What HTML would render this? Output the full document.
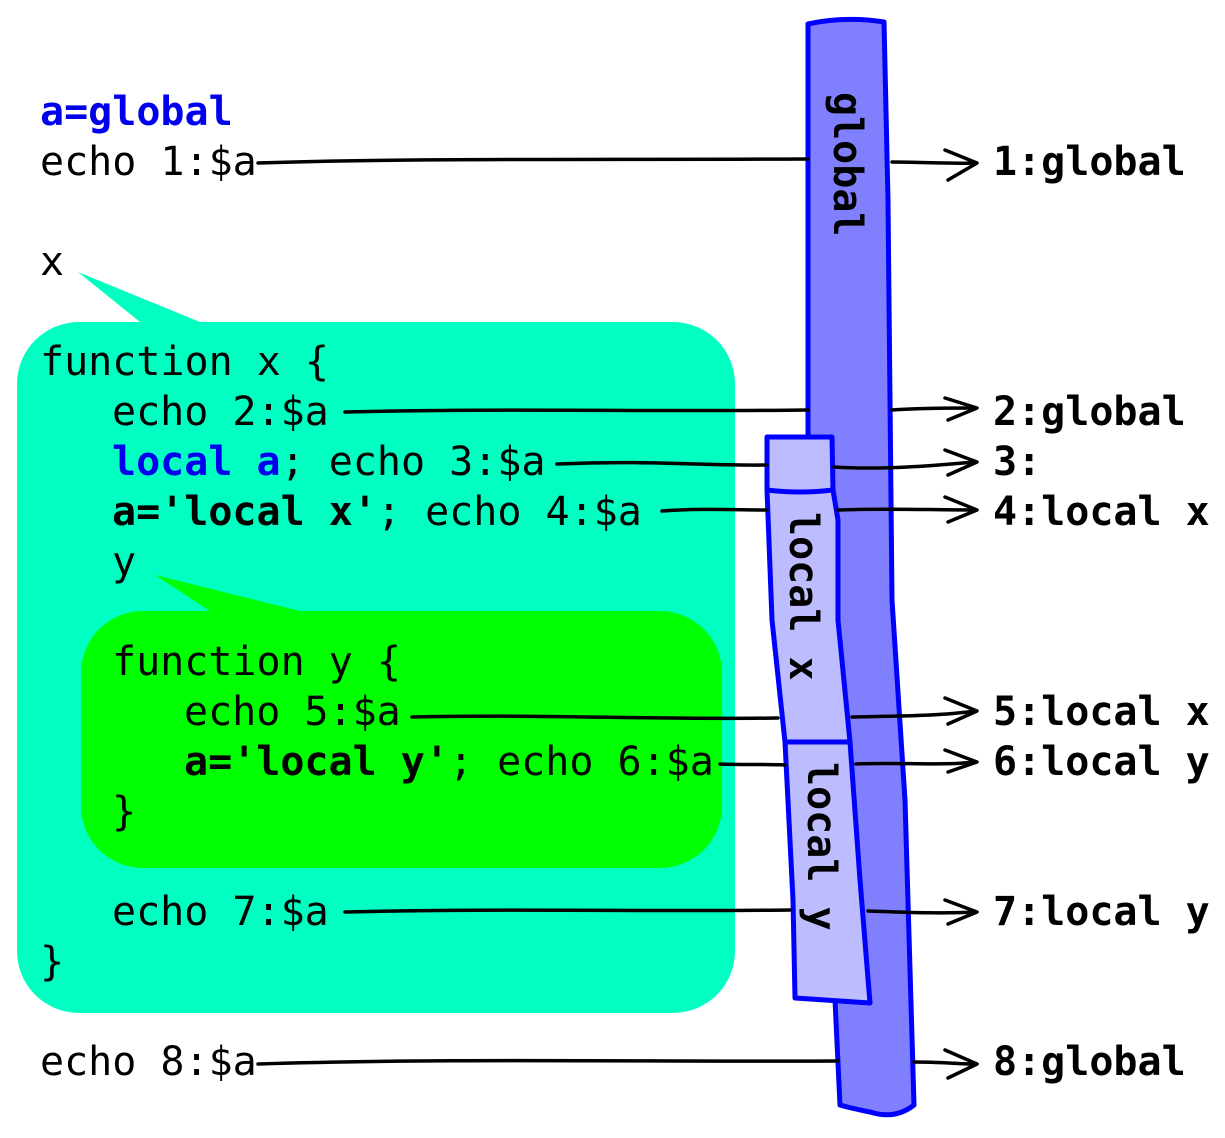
<!DOCTYPE html>
<html><head><meta charset="utf-8"><style>
html,body{margin:0;padding:0;background:#fff;}
svg{display:block}
text{font-family:"DejaVu Sans Mono","Liberation Mono",monospace;font-size:40px;}
.b{font-weight:bold}
</style></head><body>
<svg width="1225" height="1138" viewBox="0 0 1225 1138">
<!-- callouts -->
<path d="M78,272 L200,322 L140,322 Z" fill="#00ffc0"/>
<rect x="17" y="322" width="718" height="691" rx="62" fill="#00ffc0"/>
<path d="M155,575 L300,611 L210,611 Z" fill="#00ff00"/>
<rect x="81" y="611" width="641" height="257" rx="62" fill="#00ff00"/>

<!-- global bar -->
<path d="M808,24 Q845,16 884,22 L888,200 L892,600 L905,800 L914,1105 Q895,1120 870,1112 Q850,1108 840,1105 L835,1000 L808,600 L808,200 Z" fill="#8080ff" stroke="#0000ff" stroke-width="5" stroke-linejoin="round"/>
<!-- local x -->
<path d="M767,437 L832,437 L833,490 L838,520 L838,620 L850,742 L785,742 L772,620 L767,490 Z" fill="#bcbcff" stroke="#0000ff" stroke-width="5" stroke-linejoin="round"/>
<path d="M767,490 Q800,494 833,490" fill="none" stroke="#0000ff" stroke-width="5"/>
<!-- local y -->
<path d="M785,742 L850,742 L860,880 L870,1003 L795,998 L793,900 Z" fill="#bcbcff" stroke="#0000ff" stroke-width="5" stroke-linejoin="round"/>

<text class="b" transform="translate(834,92) rotate(90)">global</text>
<text class="b" transform="translate(790,512) rotate(90)">local x</text>
<text class="b" transform="translate(808,762) rotate(90)">local y</text>

<!-- code -->
<g>
<text x="40" y="125" class="b" fill="#0000ee">a=global</text>
<text x="40" y="175">echo 1:$a</text>
<text x="40" y="275">x</text>
<text x="40" y="375">function x {</text>
<text x="112" y="425">echo 2:$a</text>
<text x="112" y="475"><tspan class="b" fill="#0000ee">local a</tspan>; echo 3:$a</text>
<text x="112" y="525"><tspan class="b">a='local x'</tspan>; echo 4:$a</text>
<text x="112" y="575">y</text>
<text x="112" y="675">function y {</text>
<text x="184" y="725">echo 5:$a</text>
<text x="184" y="775"><tspan class="b">a='local y'</tspan>; echo 6:$a</text>
<text x="112" y="825">}</text>
<text x="112" y="925">echo 7:$a</text>
<text x="40" y="975">}</text>
<text x="40" y="1075">echo 8:$a</text>
</g>

<!-- outputs -->
<g class="b">
<text x="993" y="175" class="b">1:global</text>
<text x="993" y="425" class="b">2:global</text>
<text x="993" y="475" class="b">3:</text>
<text x="993" y="525" class="b">4:local x</text>
<text x="993" y="725" class="b">5:local x</text>
<text x="993" y="775" class="b">6:local y</text>
<text x="993" y="925" class="b">7:local y</text>
<text x="993" y="1075" class="b">8:global</text>
</g>

<!-- arrows -->
<g fill="none" stroke="#000" stroke-width="3.5" stroke-linecap="round" stroke-linejoin="round">
<path d="M258,163 C400,158 600,160 808,159"/><path d="M892,162 C920,162 950,164 975,163"/>
<path d="M945,150 L977,163 L948,180"/>
<path d="M345,412 C500,408 650,412 808,410"/><path d="M892,410 C920,408 950,408 975,408"/>
<path d="M945,398 L977,408 L948,420"/>
<path d="M557,464 C650,460 700,466 767,465"/><path d="M834,467 C880,470 930,466 975,462"/>
<path d="M945,450 L977,462 L948,475"/>
<path d="M662,511 C700,508 740,510 767,510"/><path d="M838,510 C880,508 930,510 975,510"/>
<path d="M945,497 L977,510 L948,522"/>
<path d="M412,717 C550,714 650,720 778,718"/><path d="M852,717 C900,716 940,716 975,711"/>
<path d="M945,698 L977,711 L948,724"/>
<path d="M720,764 C740,765 760,764 785,765"/><path d="M856,764 C900,762 940,766 975,762"/>
<path d="M945,750 L977,762 L948,772"/>
<path d="M345,912 C500,908 650,912 790,910"/><path d="M868,911 C900,912 940,914 975,912"/>
<path d="M945,900 L977,912 L948,924"/>
<path d="M258,1064 C450,1058 650,1062 838,1061"/><path d="M914,1062 C940,1062 960,1064 975,1064"/>
<path d="M945,1050 L977,1064 L948,1078"/>
</g>
</svg>
</body></html>
